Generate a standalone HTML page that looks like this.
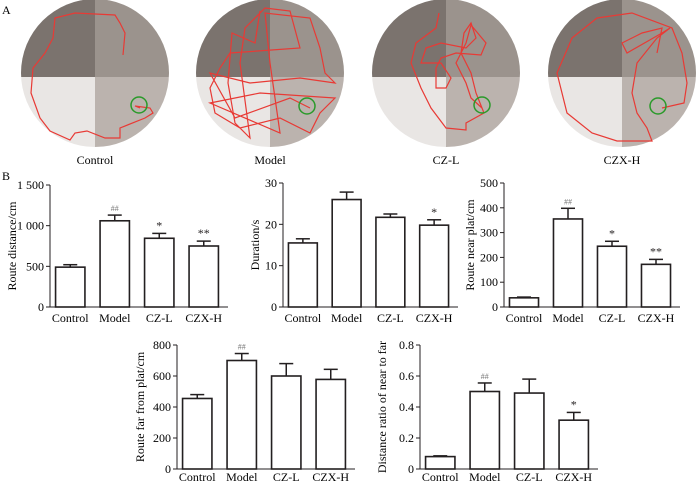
<!DOCTYPE html>
<html><head><meta charset="utf-8"><style>
body{margin:0;background:#fff;}
svg{display:block;font-family:"Liberation Serif",serif;}
</style></head><body>
<svg id="s" width="700" height="482" viewBox="0 0 700 482">
<defs>
<clipPath id="c1"><circle cx="95" cy="73" r="74"/></clipPath>
<clipPath id="c2"><circle cx="270" cy="73" r="74"/></clipPath>
<clipPath id="c3"><circle cx="446" cy="73" r="74"/></clipPath>
<clipPath id="c4"><circle cx="622" cy="73" r="74"/></clipPath>
</defs>
<text x="2" y="14" font-size="12">A</text>
<text x="2" y="180" font-size="12">B</text>
<g id="pools"></g>
<g id="charts"></g>
</svg>
<script>
const NS='http://www.w3.org/2000/svg';
function mk(tag,attrs,parent,txt){const e=document.createElementNS(NS,tag);for(const k in attrs)e.setAttribute(k,attrs[k]);if(txt!==undefined)e.textContent=txt;parent.appendChild(e);return e;}
const pools=document.getElementById('pools');
const poolNames=['Control','Model','CZ-L','CZX-H'];
const poolCx=[95,270,446,622];
const goalOff=[[44,32],[37,33],[36,32],[36,33]];
const paths=[
"M28,-18 L30,-40 L25,-50 L20,-58 L-20,-60 L-40,-55 L-42,-35 L-50,-20 L-62,-5 L-64,20 L-55,45 L-45,58 L-25,67 L-20,60 L-8,58 L10,65 L25,65 L25,55 L50,45 L58,40 L55,35 L40,33 L45,35",
"M-10,-62 L-15,-30 L-38,-40 L-42,10 L-35,50 L-20,65 L-30,-10 L-25,-45 L-5,-65 L20,-62 L30,-25 L-40,-20 L-50,-5 L-60,15 L-55,40 L-30,55 L10,45 L40,60 L50,40 L65,25 L-10,20 L-60,30 L10,60 L0,-10 L-5,-60 L40,-55 L50,-25 L55,0 L65,10 L30,5 L-20,10 L-60,0 L-35,45 L20,25 L40,35",
"M-7,-60 L-10,-45 L-30,-30 L-35,-10 L-25,15 L-15,35 L0,55 L20,57 L20,50 L38,40 L30,20 L25,0 L20,-10 L15,-20 L18,-40 L25,-50 L30,-35 L20,-25 L-5,-30 L-20,-25 L-25,-10 L-5,-10 L5,5 L0,15 L-10,15 L-10,-5 L-5,-15 L10,-20 L35,-18 L40,-30 L25,-48 L20,-30 L10,-10 L20,10 L25,25 L36,35",
"M35,-20 L40,-45 L20,-40 L0,-30 L5,-20 L40,-40 L48,-45 L35,-35 L15,-10 L10,20 L15,40 L25,55 L30,68 L-5,68 L-30,60 L-55,40 L-65,0 L-50,-35 L-25,-55 L10,-60 L50,-45 L60,-20 L65,10 L62,30 L40,35"];
poolNames.forEach((n,i)=>{
  const cx=poolCx[i],cy=73;
  const g=mk('g',{'clip-path':'url(#c'+(i+1)+')'},pools);
  
  
  mk('rect',{x:cx-80,y:-10,width:80,height:87,fill:'#7b736e'},g);
  mk('rect',{x:cx,y:-10,width:80,height:87,fill:'#9b938d'},g);
  mk('rect',{x:cx-80,y:77,width:80,height:80,fill:'#e9e6e4'},g);
  mk('rect',{x:cx,y:77,width:80,height:80,fill:'#bbb3ae'},g);
  const p=mk('path',{d:paths[i],transform:'translate('+cx+','+cy+')',fill:'none',stroke:'#e83a35','stroke-width':1.2},pools);
  
  
  const gc=mk('circle',{cx:cx+goalOff[i][0],cy:cy+goalOff[i][1],r:8,fill:'none',stroke:'#2a9a2a','stroke-width':1.5},pools);
  
  
  const t=mk('text',{x:cx,y:164,'font-size':12,'text-anchor':'middle'},pools,n);
  
  
});

// chart data
const categories=['Control','Model','CZ-L','CZX-H'];
const distVals=[490,1060,845,750];
const distErr=[30,70,60,60];
const distSig=['','##','*','**'];
const distTicks=[0,500,1000,1500];
const distTickLabels=['0','500','1 000','1 500'];
const durVals=[15.5,26,21.7,19.8];
const durErr=[1,1.8,0.8,1.3];
const durSig=['','','','*'];
const durTicks=[0,10,20,30];
const nearVals=[37,355,245,172];
const nearErr=[3,43,20,20];
const nearSig=['','##','*','**'];
const nearTicks=[0,100,200,300,400,500];
const farVals=[455,700,600,578];
const farErr=[25,45,80,65];
const farSig=['','##','',''];
const farTicks=[0,200,400,600,800];
const ratioVals=[0.08,0.50,0.49,0.315];
const ratioErr=[0.005,0.055,0.09,0.05];
const ratioSig=['','##','','*'];
const ratioTicks=[0,0.2,0.4,0.6,0.8];
const ratioTickLabels=['0','0.2','0.4','0.6','0.8'];

const charts=document.getElementById('charts');
function chart(name,ax,y0,yTop,xEnd,ymax,vals,err,sig,ticks,tickLabels,title,titleX,lblOff){
  const g=mk('g',{},charts);
  
  
  const ys=v=>y0-(v/ymax)*(y0-yTop);
  const step=(xEnd-ax)/4;
  const bw=step*0.66;
  mk('line',{x1:ax,y1:yTop,x2:ax,y2:y0,stroke:'#231f20','stroke-width':1},g);
  mk('line',{x1:ax,y1:y0,x2:xEnd,y2:y0,stroke:'#231f20','stroke-width':1},g);
  ticks.forEach((t,i)=>{
    mk('line',{x1:ax-4,y1:ys(t),x2:ax,y2:ys(t),stroke:'#231f20'},g);
    const tl=mk('text',{x:ax-6,y:ys(t)+4,'font-size':12,'text-anchor':'end'},g,tickLabels?tickLabels[i]:String(t));
    
    
  });
  const yt=mk('text',{x:0,y:0,'font-size':12,'text-anchor':'middle',transform:'translate('+titleX+','+((y0+yTop)/2)+') rotate(-90)'},g,title);
  
  
  categories.forEach((c,i)=>{
    const cx=ax+step*(i+0.5)-2;
    const top=ys(vals[i]),et=ys(vals[i]+err[i]);
    mk('line',{x1:cx,y1:top,x2:cx,y2:et,stroke:'#231f20','stroke-width':1.5},g);
    mk('line',{x1:cx-7,y1:et,x2:cx+7,y2:et,stroke:'#231f20','stroke-width':1.5},g);
    const b=mk('rect',{x:cx-bw/2,y:top,width:bw,height:y0-top,fill:'#fff',stroke:'#231f20','stroke-width':1.6},g);
    
    
    if(sig[i]){
      const s=mk('text',{x:cx,y:et-4,'font-size':sig[i][0]=='#'?8:12,'text-anchor':'middle',fill:sig[i][0]=='#'?'#777':'#231f20'},g,sig[i]);
      
      
    }
    const xl=mk('text',{x:cx,y:y0+lblOff,'font-size':12,'text-anchor':'middle'},g,c);
    
    
  });
}
chart('route-distance-chart',50,307,185,228,1500,distVals,distErr,distSig,distTicks,distTickLabels,'Route distance/cm',16,15);
chart('duration-chart',283,307,183,458,30,durVals,durErr,durSig,durTicks,null,'Duration/s',259,15);
chart('route-near-chart',504,307,183,680,500,nearVals,nearErr,nearSig,nearTicks,null,'Route near plat/cm',474,15);
chart('route-far-chart',177,469,345,355,800,farVals,farErr,farSig,farTicks,null,'Route far from plat/cm',144,12);
chart('distance-ratio-chart',420,469,345,598,0.8,ratioVals,ratioErr,ratioSig,ratioTicks,ratioTickLabels,'Distance ratio of near to far',386,12);
</script>
</body></html>
